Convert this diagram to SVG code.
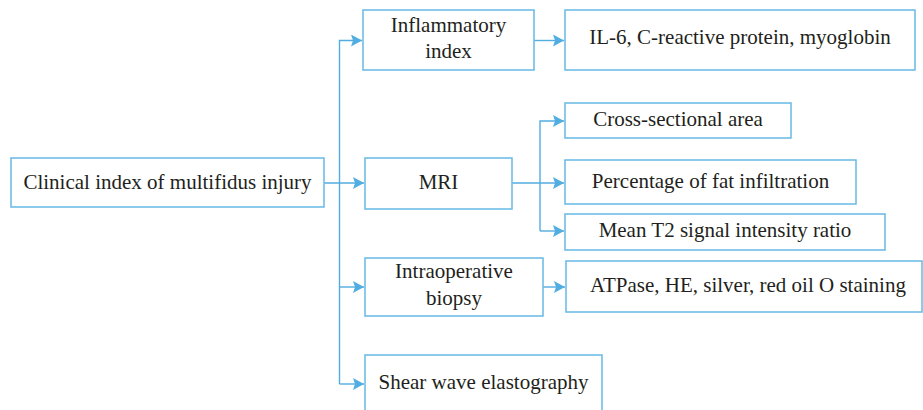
<svg xmlns="http://www.w3.org/2000/svg" width="923" height="410" viewBox="0 0 923 410">
<style>
.box{fill:#fff;stroke:#6fbde6;stroke-width:1.6}
.t{font-family:"Liberation Serif","Times New Roman",serif;font-size:21px;fill:#231f20;text-anchor:middle}
.c{fill:none;stroke:#52ade0;stroke-width:1.4}
</style>
<defs>
<marker id="ah" markerUnits="userSpaceOnUse" markerWidth="12" markerHeight="12" refX="11" refY="6" orient="auto">
<path d="M0,0 L11,6 L0,12 L2,6 Z" fill="#52ade0"/>
</marker>
</defs>
<g id="connectors">
<path class="c" d="M339.5,384 V40.5 H362" marker-end="url(#ah)"/>
<path class="c" d="M324,183 H364" marker-end="url(#ah)"/>
<path class="c" d="M339.5,287 H364" marker-end="url(#ah)"/>
<path class="c" d="M339.5,384 H364" marker-end="url(#ah)"/>
<path class="c" d="M534,40.5 H564" marker-end="url(#ah)"/>
<path class="c" d="M512,183 H564" marker-end="url(#ah)"/>
<path class="c" d="M540,231 V121 H564" marker-end="url(#ah)"/>
<path class="c" d="M540,231 H564" marker-end="url(#ah)"/>
<path class="c" d="M543,287 H565" marker-end="url(#ah)"/>
</g>
<g id="root"><rect class="box" x="11" y="158" width="313" height="49"/><text class="t" x="167.5" y="189">Clinical index of multifidus injury</text></g>
<g id="inflammatory"><rect class="box" x="363" y="10" width="171" height="60"/><text class="t" x="448.5" y="32">Inflammatory</text><text class="t" x="448.5" y="58">index</text></g>
<g id="mri"><rect class="box" x="365" y="158" width="147" height="51"/><text class="t" x="438.5" y="189">MRI</text></g>
<g id="biopsy"><rect class="box" x="365" y="258" width="178" height="58"/><text class="t" x="454" y="278">Intraoperative</text><text class="t" x="454" y="305">biopsy</text></g>
<g id="shear"><rect class="box" x="365" y="355" width="237" height="60"/><text class="t" x="483.5" y="389">Shear wave elastography</text></g>
<g id="il6"><rect class="box" x="565" y="10" width="350" height="60"/><text class="t" x="740" y="44">IL-6, C-reactive protein, myoglobin</text></g>
<g id="csa"><rect class="box" x="565" y="103" width="226" height="35"/><text class="t" x="678" y="126">Cross-sectional area</text></g>
<g id="fat"><rect class="box" x="565" y="160" width="291" height="44"/><text class="t" x="710.5" y="188">Percentage of fat infiltration</text></g>
<g id="t2"><rect class="box" x="565" y="214" width="320" height="36"/><text class="t" x="725" y="237">Mean T2 signal intensity ratio</text></g>
<g id="atpase"><rect class="box" x="566" y="261" width="356" height="51"/><text class="t" x="748" y="292">ATPase, HE, silver, red oil O staining</text></g>
</svg>
